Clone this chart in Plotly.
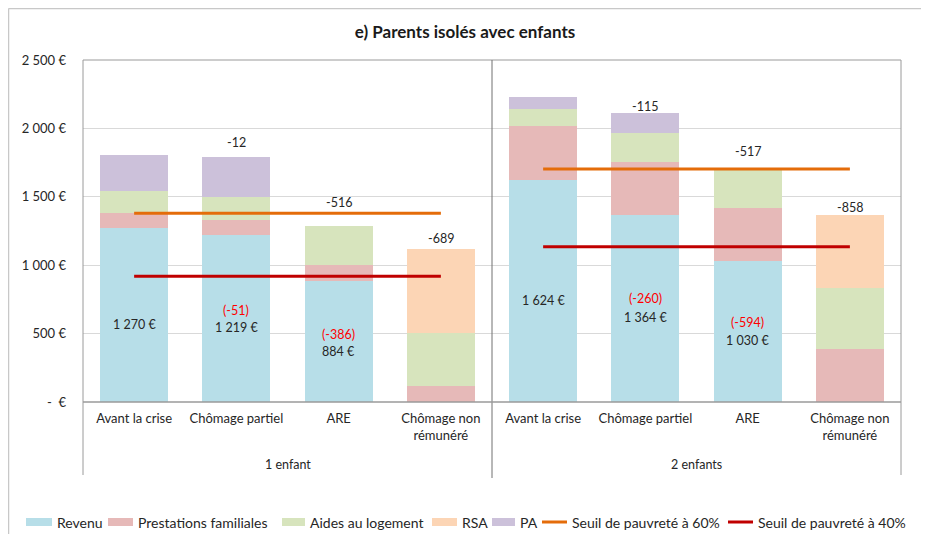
import plotly.graph_objects as go

# ---------------- data ----------------
groups = ["1 enfant", "2 enfants"]
situations = ["Avant la crise", "Chômage partiel", "ARE", "Chômage non<br>rémunéré"]
categories = situations + situations

revenu = [1270, 1219, 884, 0, 1624, 1364, 1030, 0]
prestations_familiales = [115, 115, 115, 115, 390, 390, 390, 390]
aides_logement = [155, 165, 291, 387, 127, 215, 290, 440]
rsa = [0, 0, 0, 615, 0, 0, 0, 539]
pa = [266, 295, 0, 0, 86, 143, 0, 0]
seuil_60 = [1380, 1380, 1380, 1380, 1703, 1703, 1703, 1703]
seuil_40 = [920, 920, 920, 920, 1135, 1135, 1135, 1135]

y_ticks = [0, 500, 1000, 1500, 2000, 2500]

# ---------------- styling / positions ----------------
FONT = "Lato"
TXT = "#262626"
OFF = 8                      # page body margin
L, R, T, B = 83, 901, 60, 402  # plot area in screen pixels
W, H = R - L, B - T
CW, CH = 929 - 2 * OFF, 542 - 2 * OFF


def px(x):
    return (x - L) / W


def py(y):
    return (B - y) / H


colors = {
    "Revenu": "#B7DEE8",
    "Prestations familiales": "#E6B9B8",
    "Aides au logement": "#D7E4BD",
    "RSA": "#FCD5B5",
    "PA": "#CCC1DA",
}
line_colors = {"Seuil de pauvreté à 60%": "#E46C0A", "Seuil de pauvreté à 40%": "#C00000"}

xs = list(range(len(categories)))
n_per_group = len(situations)

fig = go.Figure()
series = [
    ("Revenu", revenu),
    ("Prestations familiales", prestations_familiales),
    ("Aides au logement", aides_logement),
    ("RSA", rsa),
    ("PA", pa),
]
for name, vals in series:
    fig.add_trace(go.Bar(x=xs, y=vals, name=name, marker=dict(color=colors[name], line=dict(width=0)),
                         width=0.665, showlegend=False, hoverinfo="skip"))


def split_groups(values):
    lx, ly = [], []
    for g in range(len(groups)):
        for k in range(n_per_group):
            i = g * n_per_group + k
            lx.append(xs[i])
            ly.append(values[i])
        lx.append(None)
        ly.append(None)
    return lx, ly


for name, vals in [("Seuil de pauvreté à 60%", seuil_60), ("Seuil de pauvreté à 40%", seuil_40)]:
    lx, ly = split_groups(vals)
    fig.add_trace(go.Scatter(x=lx, y=ly, mode="lines", name=name, showlegend=False,
                             line=dict(color=line_colors[name], width=3), connectgaps=False,
                             hoverinfo="skip"))

totals = [revenu[i] + prestations_familiales[i] + aides_logement[i] + rsa[i] + pa[i] for i in xs]


def euro(v):
    return f"{v:,}".replace(",", " ") + " €"


# label positions (data units)
total_label_y = [None, 1900, 1455, 1192, None, 2157, 1830, 1425]
rev_label_y = [563, 543, 368, None, 740, 619, 446, None]
rev_diff_label_y = [None, 672, 497, None, None, 753, 580, None]

ann = []
for i in xs:
    first = (i // n_per_group) * n_per_group
    if total_label_y[i] is not None:
        ann.append(dict(x=xs[i], y=total_label_y[i], xref="x", yref="y", text=str(totals[i] - totals[first]),
                        showarrow=False, font=dict(family=FONT, size=12.5, color=TXT)))
    if rev_label_y[i] is not None:
        ann.append(dict(x=xs[i], y=rev_label_y[i], xref="x", yref="y", text=euro(revenu[i]),
                        showarrow=False, font=dict(family=FONT, size=12.5, color=TXT)))
    if rev_diff_label_y[i] is not None:
        ann.append(dict(x=xs[i], y=rev_diff_label_y[i], xref="x", yref="y",
                        text=f"({revenu[i] - revenu[first]})",
                        showarrow=False, font=dict(family=FONT, size=12.5, color="#FF0000")))

# group labels
for g, name in enumerate(groups):
    cx = (g * n_per_group + (g + 1) * n_per_group - 1) / 2
    ann.append(dict(x=cx, y=py(465), xref="x", yref="paper", text=name, showarrow=False,
                    yanchor="middle", font=dict(family=FONT, size=12.5, color=TXT)))

# manual legend (screen px)
legend_items = [
    ("Revenu", "box", 26, 52, 55),
    ("Prestations familiales", "box", 108, 133, 136),
    ("Aides au logement", "box", 282, 305, 308),
    ("RSA", "box", 432, 457, 460),
    ("PA", "box", 492, 515, 518),
    ("Seuil de pauvreté à 60%", "line", 542, 567, 570),
    ("Seuil de pauvreté à 40%", "line", 728, 753, 756),
]
LEG_Y = 522
shapes = []
# chart frame (left / top edges)
shapes.append(dict(type="line", xref="paper", yref="paper", x0=px(OFF + 0.5), x1=px(OFF + 0.5),
                   y0=py(600), y1=py(OFF + 0.5), line=dict(color="#c8c8c8", width=1.5), layer="below"))
shapes.append(dict(type="line", xref="paper", yref="paper", x0=px(OFF + 0.5), x1=px(1000),
                   y0=py(OFF + 0.5), y1=py(OFF + 0.5), line=dict(color="#c8c8c8", width=1.5), layer="below"))

for name, kind, x0, x1, tx in legend_items:
    if kind == "box":
        shapes.append(dict(type="rect", xref="paper", yref="paper", x0=px(x0), x1=px(x1),
                           y0=py(LEG_Y + 4), y1=py(LEG_Y - 4), fillcolor=colors[name], line=dict(width=0)))
    else:
        shapes.append(dict(type="line", xref="paper", yref="paper", x0=px(x0), x1=px(x1),
                           y0=py(LEG_Y), y1=py(LEG_Y), line=dict(color=line_colors[name], width=3)))
    ann.append(dict(x=px(tx), y=py(LEG_Y), xref="paper", yref="paper", text=name, showarrow=False,
                    xanchor="left", yanchor="middle", font=dict(family=FONT, size=14, color=TXT)))

# plot frame lines
AX = "#9a9a9a"
shapes.append(dict(type="line", xref="paper", yref="paper", x0=0, x1=1, y0=1, y1=1,
                   line=dict(color=AX, width=1)))
shapes.append(dict(type="line", xref="paper", yref="paper", x0=0, x1=0, y0=py(475), y1=1,
                   line=dict(color=AX, width=1)))
shapes.append(dict(type="line", xref="paper", yref="paper", x0=1, x1=1, y0=py(475), y1=1,
                   line=dict(color=AX, width=1)))
shapes.append(dict(type="line", xref="x", yref="paper", x0=n_per_group - 0.5, x1=n_per_group - 0.5,
                   y0=py(478), y1=1, line=dict(color="#707070", width=1)))
shapes.append(dict(type="line", xref="paper", yref="paper", x0=0, x1=1, y0=0, y1=0,
                   line=dict(color=AX, width=1.5)))

fig.update_layout(
    width=CW, height=CH,
    margin=dict(l=L - OFF, r=CW - (R - OFF), t=T - OFF, b=CH - (B - OFF)),
    barmode="stack",
    bargap=0.335,
    paper_bgcolor="white",
    plot_bgcolor="rgba(0,0,0,0)",
    showlegend=False,
    title=dict(text="<b>e) Parents isolés avec enfants</b>", x=(465 - OFF) / CW, xref="container",
               xanchor="center", y=1 - (32 - OFF) / CH, yref="container", yanchor="middle",
               font=dict(family=FONT, size=17, color="#1a1a1a")),
    xaxis=dict(range=[-0.5, len(xs) - 0.5], tickvals=xs, ticktext=categories, showgrid=False,
               zeroline=False, showline=False, ticks="", tickfont=dict(family=FONT, size=13, color=TXT),
               ticklabelstandoff=7, fixedrange=True),
    yaxis=dict(range=[0, 2500], tickvals=y_ticks,
               ticktext=[("-  €" if v == 0 else euro(v)) for v in y_ticks],
               showgrid=True, gridcolor="#d9d9d9", gridwidth=1, zeroline=False, showline=False, ticks="",
               tickfont=dict(family=FONT, size=13, color=TXT), ticklabelstandoff=16, fixedrange=True),
    annotations=ann,
    shapes=shapes,
)

fig.write_html("out.html")
